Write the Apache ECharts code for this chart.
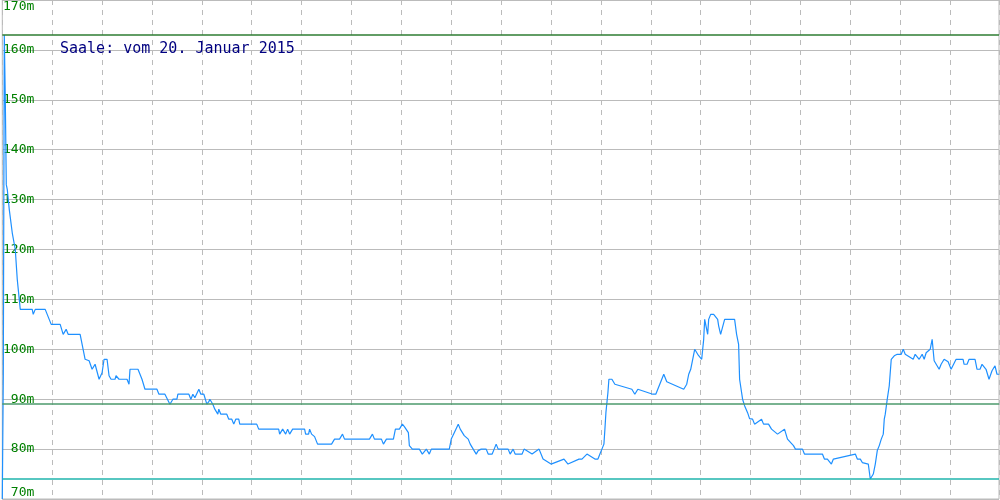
<!DOCTYPE html>
<html>
<head>
<meta charset="utf-8">
<script src="https://cdn.jsdelivr.net/npm/echarts@6/dist/echarts.min.js"></script>
<style>html,body{margin:0;padding:0;background:#fff}#c{width:1000px;height:500px}</style>
</head>
<body>
<div id="c"></div>
<script>
// Title
const titleText = 'Saale: vom 20. Januar 2015';
// Y axis ticks (m)
const yMin = 70, yMax = 170, yStep = 10;
// Reference levels (m)
const levelHigh = 163, levelMid = 89, levelLow = 74;
// Sample positions (time index) and water levels (m)
const t = [0,1,2,3,4,5,7,10,13,15,17,18,30,31,33,43,49,58,61,64,66,78,81,83,87,90,93,97,100,102,105,107,109,113,114,117,125,127,128,136,140,143,155,157,163,168,171,175,176,187,189,191,193,194,197,199,202,205,207,208,211,213,216,217,219,225,227,230,232,234,237,238,255,257,277,278,281,284,286,288,291,303,304,307,308,310,313,316,330,333,338,341,343,368,371,373,380,382,385,392,394,398,401,403,407,408,411,418,421,423,425,428,430,448,450,453,457,459,463,467,469,472,475,477,480,485,487,491,493,495,497,507,509,512,514,521,523,531,533,538,542,550,552,563,564,567,578,581,586,588,594,597,599,601,603,604,605,607,608,611,614,616,631,632,634,637,639,652,655,657,660,663,666,683,684,686,688,690,692,693,694,697,701,702,703,704,706,707,708,710,713,717,718,720,722,724,734,736,737,738,739,742,744,747,749,752,754,761,763,768,771,773,777,784,787,789,793,795,802,804,822,824,827,831,833,855,857,860,862,868,870,872,873,875,877,879,881,883,884,885,887,889,891,894,897,901,903,905,907,913,915,917,919,922,924,926,930,932,933,934,939,941,942,944,948,951,956,963,964,967,969,975,977,980,982,983,986,988,989,992,993,995,997,999];
const level = [70,95,163,150,133,132,128,123.3,120,114,110,108,108,107,108,108,105,105,103,104,103,103,100,98,97.7,96,97,94,95.3,98,98,94.7,94,94,94.7,94,94,93,96,96,94,92,92,91,91,89,90,90,91,91,90,91,90.3,90,92,91,91,89,89.5,90,89,88,87,88,87,87,86,86,85,86,86,85,85,84,84,83,84,83,84,83,84,84,83,83,84,83,82.5,81,81,82,82,83,82,82,83,82,82,81,82,82,84,84,85,84.5,83.3,80.7,80,80,79,79,80,79,80,80,82,83.3,85,84,82.7,82,81,80,79,79.7,80,80,79,79,80,81,80,80,79,80,79,79,80,79,79,80,78,77,77,78,78,77,78,78,79,79,78,78,79,80,81,84,87.3,91.3,94,94,93,93,92,92,91,92,92,91,91,92,93.5,95,93.5,92,92,93,95,96,96,99,100,99,98,98,102,106,104,103,106,107,107,106,104.7,103,103,106,106,103,103,101,94,90,88.7,87.3,86.1,86,85,86,85,85,84,84,83,84,82,82,80.7,80,80,79,79,78,78,77,78,79,78,78,77.3,77,74,74,75,77,79.7,80.7,82,83,86,87,90,92.7,98,98.7,99,99,100,99,99,98,99,99,98,99,98,99.3,100,102,102,97.7,96,97,97,98,97.5,96,98,98,97,97,98,98,96,96,97,97,96,96,94,95.7,96,96.7,95,95,97.3,98.3,99,99];

const data = t.map((x, i) => [x, level[i]]);
const refLevels = [levelHigh, levelMid, levelLow];
const refColors = ['#2e7d32', '#4c9a6c', '#1fb5ad'];

const chart = echarts.init(document.getElementById('c'), null, {renderer: 'canvas'});
chart.setOption({
  animation: false,
  backgroundColor: '#ffffff',
  title: {
    text: titleText,
    left: 60, top: 42,
    padding: 0,
    textStyle: {fontFamily: 'DejaVu Sans Mono', fontSize: 15, fontWeight: 'normal', color: '#000080'}
  },
  grid: {left: 0, right: 1, top: 0, bottom: 1, show: true, borderColor: '#bbbbbb', borderWidth: 1, backgroundColor: '#ffffff'},
  xAxis: {
    type: 'value', min: 0, max: 999, interval: 50,
    axisLine: {show: false}, axisTick: {show: false}, axisLabel: {show: false},
    splitLine: {show: true, lineStyle: {color: '#bbbbbb', type: [5, 5], width: 1}}
  },
  yAxis: {
    type: 'value', min: yMin, max: yMax, interval: yStep,
    axisLine: {show: false}, axisTick: {show: false},
    axisLabel: {
      inside: true, margin: 32, align: 'right',
      formatter: v => v + 'm',
      color: '#008000', fontFamily: 'DejaVu Sans Mono', fontSize: 13,
      verticalAlignMaxLabel: 'top', verticalAlignMinLabel: 'bottom'
    },
    splitLine: {show: true, lineStyle: {color: '#bbbbbb', width: 1}}
  },
  series: [
    {
      type: 'line',
      data: data,
      showSymbol: false,
      symbol: 'none',
      color: '#1e90ff',
      lineStyle: {color: '#1e90ff', width: 1.2},
      z: 3,
      markLine: {
        silent: true, symbol: ['none', 'none'], label: {show: false}, animation: false,
        emphasis: {disabled: true},
        data: refLevels.map((v, i) => ({
          yAxis: v,
          lineStyle: {color: refColors[i], width: 1.5, type: 'solid', opacity: 1},
          emphasis: {disabled: true}
        }))
      }
    }
  ]
});
</script>
</body>
</html>
